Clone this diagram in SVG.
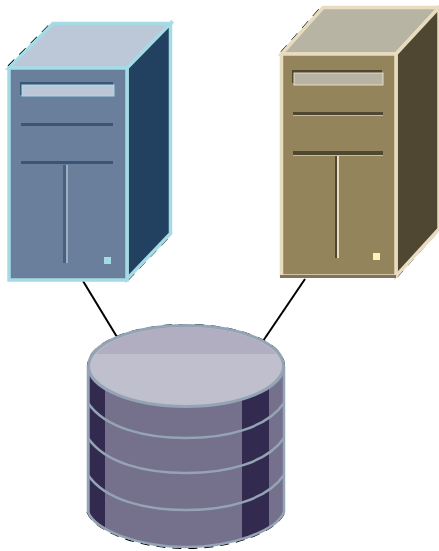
<svg xmlns="http://www.w3.org/2000/svg" width="439" height="551" viewBox="0 0 439 551">
<style>
.b{fill:none;stroke:#000;stroke-width:1.2;stroke-dasharray:9 7}
.c{fill:none;stroke:#000;stroke-width:2}
.le{stroke:#a5dbe5;stroke-width:3.500;stroke-linejoin:miter}
.re{stroke:#e8dcc0;stroke-width:3.500;stroke-linejoin:miter}
.r{fill:none;stroke:#94a4b4;stroke-width:2.500}
</style>
<defs>
<filter id="s" x="-5%" y="-5%" width="110%" height="110%"><feGaussianBlur stdDeviation="0.6"/></filter>
<clipPath id="cyl"><path d="M87 366V512C95 532 140 548 186 548C232 548 277 532 285 512V366Z"/></clipPath>
</defs>
<g id="connectors">
<path class="c" d="M83 281L117 337"/>
<path class="c" d="M305 279L263 341"/>
</g>
<g id="server-left">
<path class="b" d="M8 66L52 22"/>
<path class="b" d="M128 280L172 234"/>
<g filter="url(#s)">
<path d="M9 68L53 23.500H170.500L127 68Z" fill="#bcc8d8" class="le"/>
<path d="M127 68L170.500 23.500V233.500L127 279Z" fill="#24405f" class="le"/>
<rect x="9" y="68" width="118" height="212" fill="#6b7f9c" class="le"/>
<path d="M20 82H113V85H23V95H20Z" fill="#3b5475"/>
<rect x="22" y="85" width="92" height="11" fill="#bcc8d8" stroke="#a5dbe5" stroke-width="1"/>
<rect x="21" y="123" width="92" height="3" fill="#3b5475"/>
<rect x="21" y="161" width="92" height="3" fill="#3b5475"/>
<rect x="63" y="165" width="3" height="98" fill="#47607f"/>
<rect x="66" y="165" width="2" height="98" fill="#a0aec0"/>
<rect x="104" y="257" width="7" height="7" fill="#a5dbe5"/>
</g>
</g>
<g id="server-right">
<path class="b" d="M281 52L322 6"/>
<path class="b" d="M397 277L439 230"/>
<g filter="url(#s)">
<path d="M281.500 54L323 7.500H439L396 54Z" fill="#b8b4a4" class="re"/>
<path d="M396 54L439 7.500V229L396 276Z" fill="#504630" class="re"/>
<rect x="281.500" y="54" width="114.500" height="222" fill="#93845c" class="re"/>
<rect x="280" y="275" width="116" height="3" fill="#7f7360"/>
<path d="M292 70H382V73H295V83H292Z" fill="#504630"/>
<rect x="294" y="73" width="89" height="12" fill="#b8b4a4" stroke="#e8dcc0" stroke-width="1"/>
<rect x="293" y="112" width="90" height="3" fill="#504630"/>
<rect x="293" y="115" width="90" height="1" fill="#c8bc9c"/>
<rect x="293" y="151" width="90" height="4" fill="#504630"/>
<rect x="293" y="155" width="90" height="1" fill="#c8bc9c"/>
<rect x="335" y="156" width="2" height="102" fill="#504630"/>
<rect x="337" y="156" width="2" height="102" fill="#e8dcc0"/>
<rect x="373" y="253" width="7" height="7" fill="#fbf6b8"/>
</g>
</g>
<g id="database">
<ellipse cx="186" cy="366" rx="98.500" ry="41.500" class="b"/>
<path class="b" d="M87 512C95 532 140 548.500 186 548.500C232 548.500 277 532 285 512"/>
<g filter="url(#s)">
<path d="M88 366V512C96 531 140 547 186 547C232 547 276 531 284 512V366Z" fill="#74708c"/>
<g clip-path="url(#cyl)">
<rect x="90" y="366" width="15" height="182" fill="#332c50"/>
<rect x="242" y="366" width="27" height="182" fill="#332c50"/>
<path class="r" d="M88 403C105 428 145 438 186 438C227 438 267 428 284 403"/>
<path class="r" d="M88 438C105 463 145 473 186 473C227 473 267 463 284 438"/>
<path class="r" d="M88 475C105 500 145 510 186 510C227 510 267 500 284 475"/>
</g>
<path d="M88 366V512C96 531 140 547 186 547C232 547 276 531 284 512V366" fill="none" stroke="#94a4b4" stroke-width="2.500"/>
<ellipse cx="186" cy="366" rx="97.500" ry="40.500" fill="#c0bfce" stroke="#94a4b4" stroke-width="3"/>
<path d="M96 354C110 337 148 327 186 327C224 327 262 337 276 354Z" fill="#b0aec0"/>
</g>
</g>
</svg>
